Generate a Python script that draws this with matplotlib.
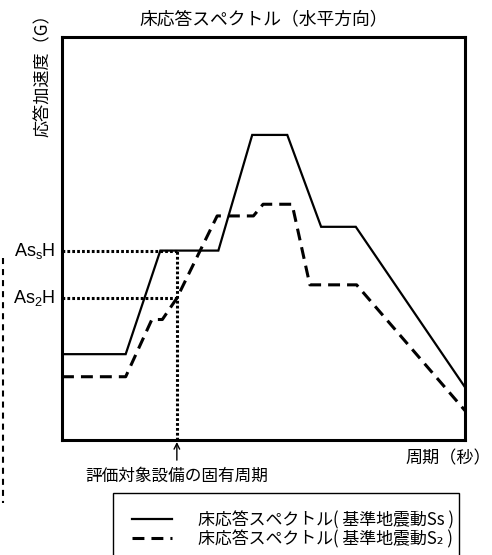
import numpy as np
import matplotlib
matplotlib.use('Agg')
import matplotlib.pyplot as plt
import matplotlib.transforms as mtrans
from matplotlib.patches import Rectangle
from matplotlib.lines import Line2D

plt.rcParams['font.family'] = ['Noto Sans CJK JP', 'DejaVu Sans']
plt.rcParams['mathtext.fontset'] = 'custom'
plt.rcParams['mathtext.rm'] = 'Liberation Sans'
plt.rcParams['mathtext.it'] = 'Liberation Sans'

# 床応答スペクトル (schematic units, period 0-100 / accel 0-100)
ss_period = [0, 15.8, 24.4, 38.8, 47.2, 55.9, 64.3, 72.9, 100]
ss_accel = [21.3, 21.3, 47.0, 47.0, 75.7, 75.7, 52.9, 52.9, 13.1]
s2_period = [0, 15.8, 22.3, 24.9, 28.5, 38.5, 47.5, 49.9, 57.1, 61.5, 73.1, 100]
s2_accel = [15.7, 15.7, 29.9, 29.9, 35.2, 55.6, 55.6, 58.5, 58.5, 38.5, 38.5, 7.3]

nat_period = 28.5       # 評価対象設備の固有周期
as_levels = [47.0, 35.2]  # AsSH, As2H
as_labels = [r'As$_{\rm s}$H', r'As$_2$H']
legend_labels = ['床応答スペクトル( 基準地震動Ss )', '床応答スペクトル( 基準地震動S₂ )']

W, H = 492, 555
fig = plt.figure(figsize=(W / 100, H / 100), dpi=100)
ax = fig.add_axes([62 / W, 1 - 440 / H, 403 / W, 403 / H])

ss_line, = ax.plot(ss_period, ss_accel, color='black', lw=1.6, solid_joinstyle='miter')
s2_line, = ax.plot(s2_period, s2_accel, color='black', lw=2.2, linestyle=(0, (3.9, 2.3)))

# dotted reference lines
dot = (0, (0.9, 0.7))
for lev in as_levels:
    ax.plot([0, nat_period], [lev, lev], color='black', lw=2.2, linestyle=dot)
ax.plot([nat_period, nat_period], [0, max(as_levels)], color='black', lw=2.2, linestyle=dot)

ax.set_xlim(0, 100)
ax.set_ylim(0, 100)
ax.set_xticks([])
ax.set_yticks([])
for s in ax.spines.values():
    s.set_linewidth(2.2)

ytr = mtrans.blended_transform_factory(ax.transAxes, ax.transData)
for lev, lab in zip(as_levels, as_labels):
    ax.text(-0.017, lev, lab, transform=ytr, ha='right', va='center',
            fontsize=13, family='Liberation Sans')

xtr = mtrans.blended_transform_factory(ax.transData, ax.transAxes)
ax.annotate('', xy=(nat_period, -0.005), xycoords=xtr,
            xytext=(nat_period, -0.05), textcoords=xtr,
            arrowprops=dict(arrowstyle='->', lw=1, color='black', shrinkA=0, shrinkB=0))
ax.text(nat_period, -0.09, '評価対象設備の固有周期', transform=xtr,
        ha='center', va='center', fontsize=12)

ax.text(1.064, -0.045, '周期（秒）', transform=ax.transAxes, ha='right', va='center', fontsize=12.3)
ax.text(0.5, 1.045, '床応答スペクトル（水平方向）', transform=ax.transAxes,
        ha='center', va='center', fontsize=12.8)
ax.text(-0.047, 1.078, '応答加速度（G）', transform=ax.transAxes, rotation=90,
        ha='center', va='top', fontsize=12.3)

# stray dashed line at left edge
fig.add_artist(Line2D([3 / W, 3 / W], [1 - 258 / H, 1 - 503 / H], color='black',
                      lw=1.5, linestyle=(0, (2.9, 2.4))))

# legend box (bottom runs off the figure)
fig.add_artist(Rectangle((113 / W, -0.05), (459 - 113) / W, 1 - 493 / H + 0.05,
                         transform=fig.transFigure, fill=False, edgecolor='black', lw=1))
fig.legend([ss_line, s2_line], legend_labels, loc='upper left',
           bbox_to_anchor=(131.7 / W, 1 - 511 / H), frameon=False, fontsize=12.2,
           borderpad=0, borderaxespad=0, handlelength=2.4, handletextpad=1.5,
           labelspacing=0.05)

fig.savefig('out.png', dpi=100)
